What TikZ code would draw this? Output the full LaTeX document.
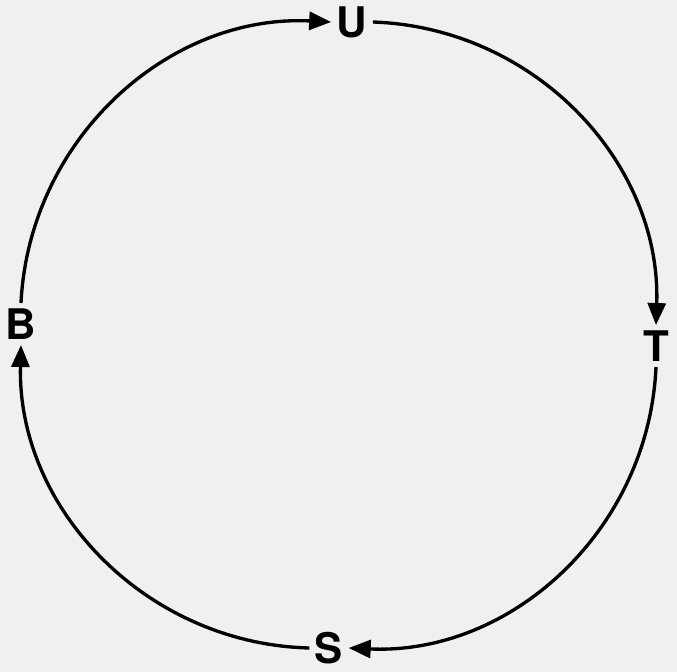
\documentclass[tikz,border=0pt]{standalone}
\usepackage{fontspec}
\setmainfont{TeX Gyre Heros}
\usetikzlibrary{arrows.meta}

\begin{document}
\begin{tikzpicture}[
    x=0.02cm, y=-0.02cm,
    lbl/.style={inner sep=3pt, font=\fontsize{24}{24}\selectfont\bfseries},
    cyc/.style={line width=1.9pt, -{Triangle[length=0.44cm, width=0.36cm]}, bend left=45}
]
    % paper
    \fill[black!6] (0,0) rectangle (677,672);
    \useasboundingbox (0,0) rectangle (677,672);

    % the four stations
    \node[lbl] (U) at (352,22) {U};
    \node[lbl] (T) at (656,346) {T};
    \node[lbl] (S) at (329,648) {S};
    \node[lbl] (B) at (21,324) {B};

    % cycle, clockwise
    \draw[cyc] (B.north) to (U.west);
    \draw[cyc] (U.east) to (T.north);
    \draw[cyc] (T.south) to (S.east);
    \draw[cyc] (S.west) to (B.south);
\end{tikzpicture}
\end{document}
